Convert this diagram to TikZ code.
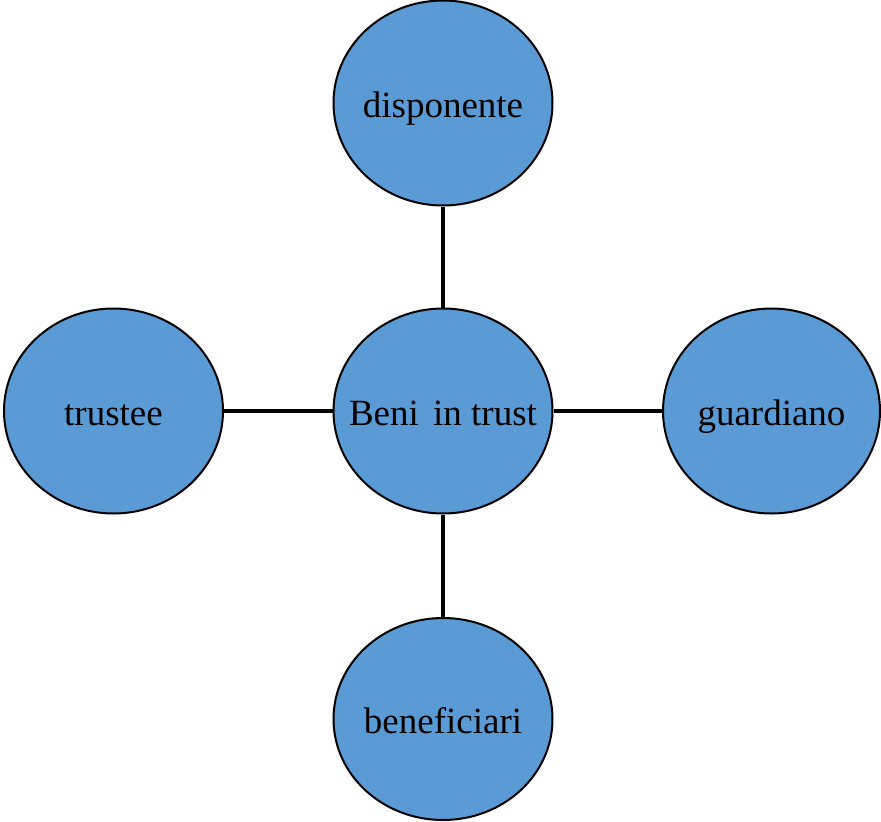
\documentclass[tikz,border=0pt]{standalone}
\usepackage{fontspec}
\setmainfont{Liberation Serif}
\usetikzlibrary{shapes.geometric}
\definecolor{ovalblue}{HTML}{5B9BD5}
\tikzset{
  oval/.style={ellipse, draw=black, line width=2pt, fill=ovalblue, inner sep=0pt,
    minimum width=219pt, minimum height=205pt,
    font=\fontsize{37}{40}\selectfont, text height=28pt, text depth=0pt},
  link/.style={draw=black, line width=4.5pt}
}
\newcommand{\ctext}[1]{\makebox[0pt][c]{#1}}
\begin{document}
\begin{tikzpicture}[x=1pt,y=-1pt]
\useasboundingbox (0,0) rectangle (881,822);
\node[oval] (top) at (443,103) {\ctext{disponente}};
\node[oval] (mid) at (443,411) {\ctext{Beni\hspace{5pt} in trust}};
\node[oval] (left) at (113.5,411) {\ctext{trustee}};
\node[oval,minimum width=217pt] (right) at (771.5,411) {\ctext{guardiano}};
\node[oval,minimum height=202pt] (bot) at (443,719) {\ctext{beneficiari}};
\draw[link] (top) -- (mid);
\draw[link] (left) -- (mid);
\draw[link] (mid) -- (right);
\draw[link] (mid) -- (bot);
\end{tikzpicture}
\end{document}
